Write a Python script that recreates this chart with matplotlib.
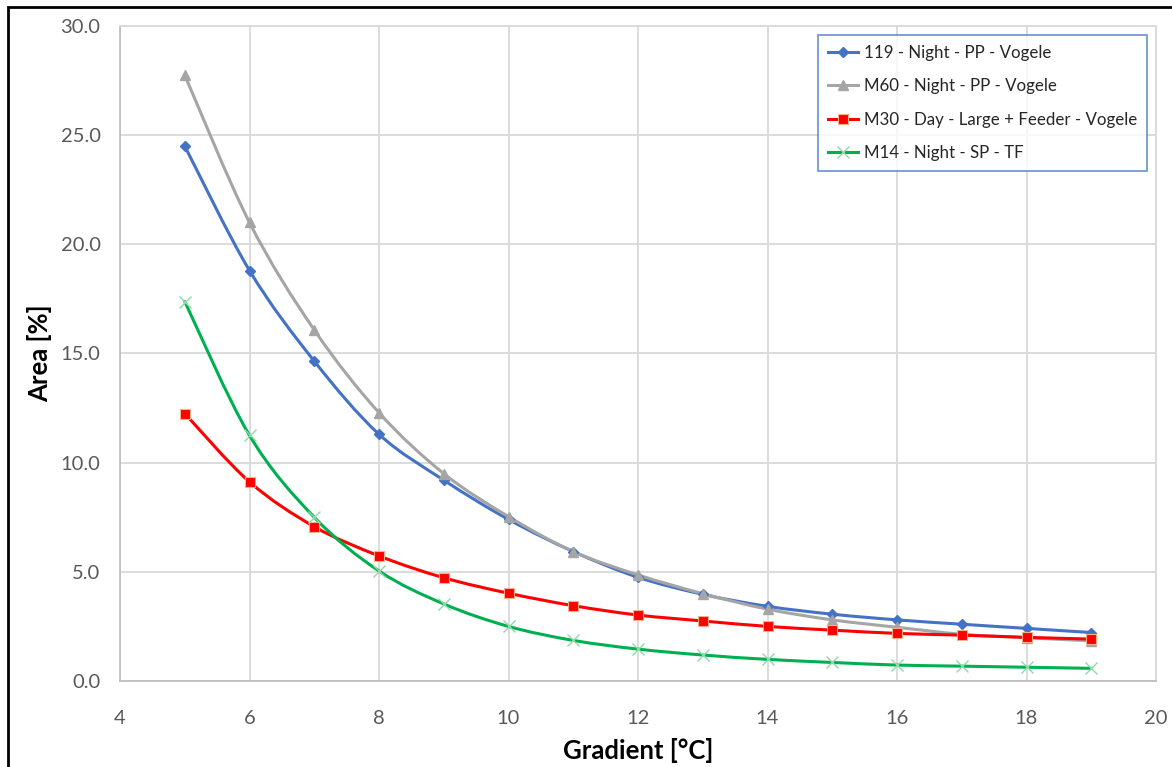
import numpy as np
import matplotlib
matplotlib.use("Agg")
import matplotlib.pyplot as plt
from matplotlib.path import Path
from matplotlib.patches import PathPatch, Rectangle
from matplotlib.lines import Line2D

plt.rcParams['font.family'] = ['Lato', 'DejaVu Sans']

gradient = [5, 6, 7, 8, 9, 10, 11, 12, 13, 14, 15, 16, 17, 18, 19]

area_119 = [24.5, 18.8, 14.65, 11.3, 9.2, 7.4, 5.93, 4.75, 3.97, 3.42, 3.06, 2.8, 2.6, 2.41, 2.22]
area_m60 = [27.75, 21.0, 16.08, 12.29, 9.5, 7.53, 5.93, 4.86, 4.0, 3.29, 2.8, 2.46, 2.14, 1.98, 1.84]
area_m30 = [12.25, 9.12, 7.07, 5.73, 4.73, 4.02, 3.45, 3.02, 2.75, 2.5, 2.33, 2.18, 2.1, 2.0, 1.92]
area_m14 = [17.38, 11.25, 7.5, 5.04, 3.53, 2.5, 1.86, 1.46, 1.19, 0.99, 0.85, 0.73, 0.68, 0.63, 0.58]

labels = ['119 - Night - PP - Vogele',
          'M60 - Night - PP - Vogele',
          'M30 - Day - Large + Feeder - Vogele',
          'M14 - Night - SP - TF']

x_ticks = [4, 6, 8, 10, 12, 14, 16, 18, 20]
y_ticks = [0, 5, 10, 15, 20, 25, 30]


def smooth_path(xs, ys):
    # excel style smoothed line: cubic bezier through the points
    pts = np.column_stack([xs, ys]).astype(float)
    n = len(pts)
    verts = [pts[0]]
    codes = [Path.MOVETO]
    for i in range(n - 1):
        p0 = pts[i - 1] if i > 0 else pts[i]
        p1 = pts[i]
        p2 = pts[i + 1]
        p3 = pts[i + 2] if i + 2 < n else pts[i + 1]
        c1 = p1 + (p2 - p0) / 6.0
        c2 = p2 - (p3 - p1) / 6.0
        verts += [c1, c2, p2]
        codes += [Path.CURVE4] * 3
    return Path(verts, codes)


fig = plt.figure(figsize=(11.72, 7.67), dpi=100)
ax = fig.add_axes([120 / 1172, 1 - 681 / 767, (1156 - 120) / 1172, (681 - 26) / 767])

series = [
    (area_119, '#4472C4', dict(marker='D', ms=5, mfc='#4472C4', mec='#4472C4')),
    (area_m60, '#A5A5A5', dict(marker='^', ms=7, mfc='#A5A5A5', mec='#A5A5A5')),
    (area_m30, '#FF0000', dict(marker='s', ms=7, mfc='#FF0000', mec='#F4B183', mew=0.8)),
    (area_m14, '#00B050', dict(marker='x', ms=8, mfc='none', mec='#8FD9A8', mew=1.0)),
]

handles = []
for (vals, col, mk), lab in zip(series, labels):
    patch = PathPatch(smooth_path(gradient, vals), facecolor='none', edgecolor=col,
                      lw=2.2, zorder=3, capstyle='round')
    ax.add_patch(patch)
    ax.plot(gradient, vals, ls='none', zorder=4, **mk)
    handles.append(Line2D([], [], color=col, lw=2.2, **mk))

ax.set_xlim(4, 20)
ax.set_ylim(0, 30)
ax.set_xticks(x_ticks)
ax.set_yticks(y_ticks)
ax.set_yticklabels([f'{v:.1f}' for v in y_ticks])
ax.grid(True, color='#D9D9D9', lw=1.3)
ax.set_axisbelow(True)
for s in ax.spines.values():
    s.set_color('#D9D9D9')
    s.set_linewidth(1.3)
ax.spines['left'].set_color('#BFBFBF')
ax.spines['bottom'].set_color('#BFBFBF')
ax.tick_params(length=0, labelsize=14.5, colors='#595959')
ax.tick_params(axis='y', pad=14)
ax.tick_params(axis='x', pad=21)
ax.set_xlabel('Gradient [°C]', fontsize=18.5, fontweight='bold', labelpad=8)
ax.set_ylabel('Area [%]', fontsize=18.5, fontweight='bold', labelpad=6)

leg = ax.legend(handles, labels, loc='upper right', bbox_to_anchor=(0.9913, 0.9863),
                fontsize=12.2, frameon=True, fancybox=False, handlelength=1.8,
                labelspacing=1.02, borderpad=0.6, handletextpad=0.3,
                borderaxespad=0)
leg.get_frame().set_edgecolor('#4472C4')
leg.get_frame().set_linewidth(1.2)
for t in leg.get_texts():
    t.set_color('#262626')

# outer black border of the chart, cut off at right and bottom
fig.patches.append(Rectangle((8 / 1172, -0.05), 1.1, 1 - 7 / 767 + 0.05,
                             transform=fig.transFigure, fill=False,
                             edgecolor='black', lw=2))

fig.savefig('out.png', dpi=100)
